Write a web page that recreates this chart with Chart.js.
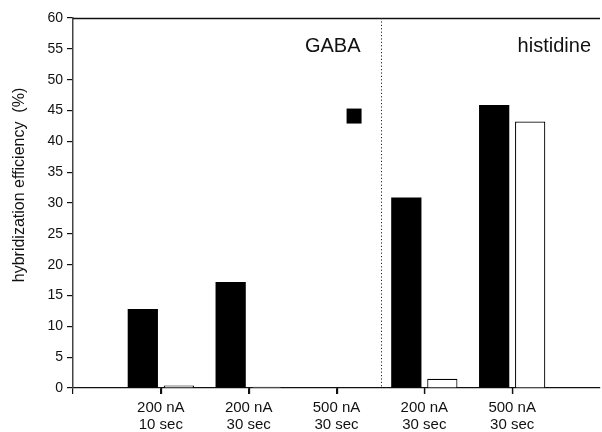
<!DOCTYPE html>
<html><head><meta charset="utf-8">
<script src="https://cdn.jsdelivr.net/npm/chart.js@4/dist/chart.umd.min.js"></script>
<style>html,body{margin:0;padding:0;background:#fff}#wrap{width:602px;height:432px}</style>
</head><body><div id="wrap"><canvas id="c" width="602" height="432"></canvas></div>
<script>
// ---- data ----
const categories = [["200 nA","10 sec"],["200 nA","30 sec"],["500 nA","30 sec"],["200 nA","30 sec"],["500 nA","30 sec"]];
const categoryPositions = [1,2,3,4,5];
const filledValues = [12.8, 17.2, 0.1, 30.9, 45.9];
const openValues   = [0.4, 0.2, 0.1, 1.5, 43.2];
const yTickValues = [0,5,10,15,20,25,30,35,40,45,50,55,60];
const groupLabels = ["GABA","histidine"];
const dividerPosition = 3.51;
const markerPoint = [{x:3.2, y:44.1}];
const yTitle = "hybridization efficiency  (%)";

const FONT = "'Liberation Sans', Arial, Helvetica, sans-serif";
const INK = '#111';

const overlay = {
  id:'overlay',
  afterDraw(chart){
    const {ctx, chartArea:a, scales:{x}} = chart;
    ctx.save();
    // top frame line
    ctx.strokeStyle = INK; ctx.lineWidth = 1.5;
    ctx.beginPath(); ctx.moveTo(a.left, a.top+0.5); ctx.lineTo(a.right, a.top+0.5); ctx.stroke();
    // category tick marks (from the x scale)
    ctx.lineWidth = 1.3; ctx.strokeStyle = INK;
    categoryPositions.forEach(p => {
      const px = Math.round(x.getPixelForValue(p)) + 0.5;
      ctx.beginPath(); ctx.moveTo(px, a.bottom); ctx.lineTo(px, a.bottom + 6); ctx.stroke();
    });
    // dotted divider
    const dx = Math.round(x.getPixelForValue(dividerPosition))+0.5;
    ctx.lineWidth = 1; ctx.setLineDash([1.2,2.2]); ctx.strokeStyle = '#222';
    ctx.beginPath(); ctx.moveTo(dx, a.top); ctx.lineTo(dx, a.bottom); ctx.stroke();
    ctx.setLineDash([]);
    // group labels
    ctx.fillStyle = INK; ctx.font = "20px " + FONT; ctx.textBaseline = 'alphabetic';
    ctx.textAlign = 'right';
    ctx.fillText(groupLabels[0], dx - 21, a.top + 34);
    ctx.fillText(groupLabels[1], a.right - 9, a.top + 34);
    // y-axis title
    ctx.translate(20, 185);
    ctx.rotate(-Math.PI/2);
    ctx.textAlign = 'center'; ctx.textBaseline = 'middle';
    ctx.font = "16px " + FONT;
    ctx.fillText(yTitle, 0, 0);
    ctx.restore();
  }
};

new Chart(document.getElementById('c'), {
  type:'bar',
  data:{
    datasets:[
      {label:'filled', data: categoryPositions.map((p,i)=>({x:p, y:filledValues[i]})),
       backgroundColor:'#000', borderWidth:0, categoryPercentage:0.82, barPercentage:0.84, order:2},
      {label:'open', data: categoryPositions.map((p,i)=>({x:p, y:openValues[i]})),
       backgroundColor:'#fff', borderColor:'#000', borderWidth:1.2, categoryPercentage:0.82, barPercentage:0.84, order:2},
      {type:'scatter', label:'marker', data: markerPoint, pointStyle:'rect', pointRadius:10.6,
       backgroundColor:'#000', borderWidth:0, order:1}
    ]
  },
  options:{
    responsive:false, animation:false, devicePixelRatio:1,
    layout:{autoPadding:false, padding:{left:0, right:2, top:18, bottom:0}},
    plugins:{legend:{display:false}, tooltip:{enabled:false}},
    scales:{
      x:{type:'linear', min:0, max:6, offset:false,
        afterFit(s){ s.height = 44; s.paddingRight = 0; s.paddingLeft = 0; },
        afterBuildTicks(s){ s.ticks = [0,1,2,3,4,5].map(v=>({value:v})); },
        ticks:{autoSkip:false, maxRotation:0, color:INK, padding:6,
          font:{family:FONT, size:15, lineHeight:1.1},
          callback(v){ const i = categoryPositions.indexOf(v); return i>=0 ? categories[i] : ''; }},
        grid:{offset:false, drawOnChartArea:false, tickLength:6, lineWidth:1.2, color:INK, tickColor:INK},
        border:{display:true, color:INK, width:1.2}
      },
      y:{min:0, max:60,
        afterFit(s){ s.width = 73; },
        afterBuildTicks(s){ s.ticks = yTickValues.map(v=>({value:v})); },
        ticks:{color:INK, padding:4, font:{family:FONT, size:14}},
        grid:{drawOnChartArea:false, tickLength:6, color:INK, lineWidth:1.2},
        border:{display:true, color:'#444', width:1.5},
        title:{display:false}
      }
    }
  },
  plugins:[overlay]
});
</script>
</body></html>
